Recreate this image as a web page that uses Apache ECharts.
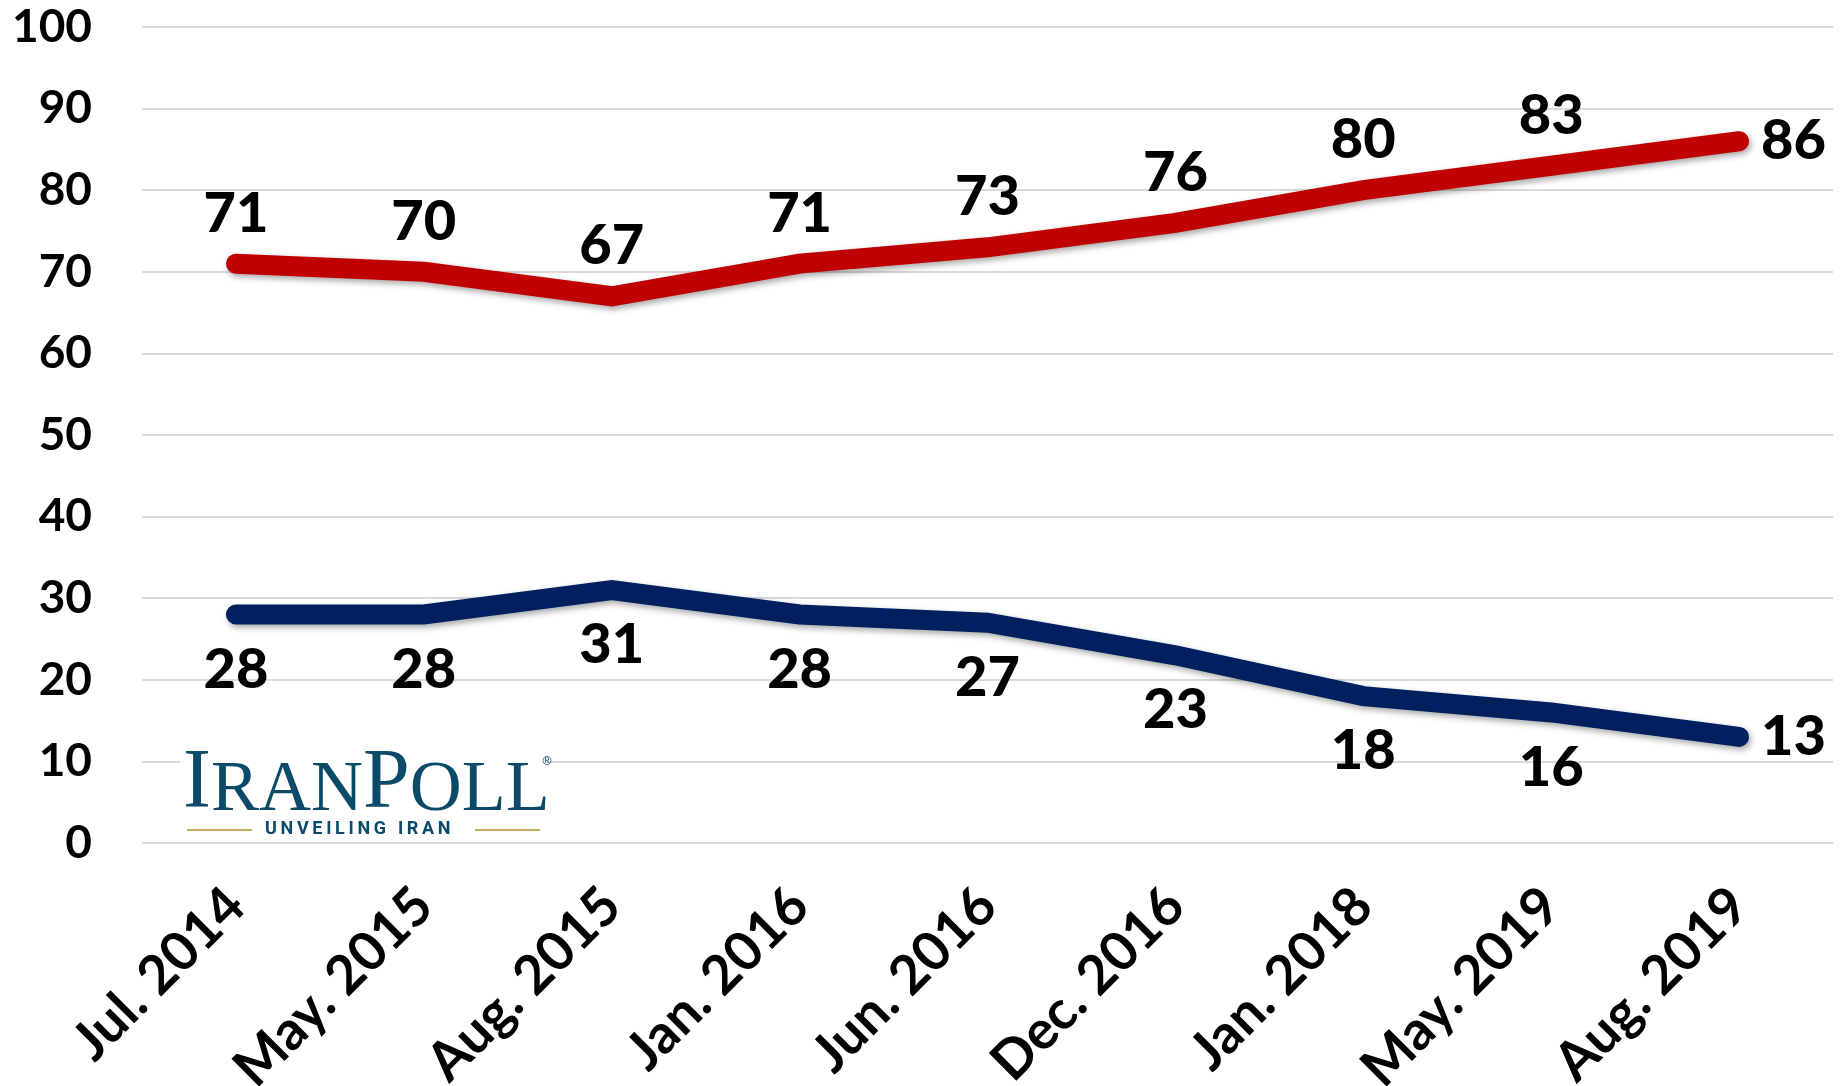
<!DOCTYPE html>
<html>
<head>
    <meta charset="utf-8">
    <title>IranPoll</title>
    <script src="https://cdn.jsdelivr.net/npm/echarts@6/dist/echarts.min.js"></script>
    <style>html, body { margin: 0; padding: 0; background: #fff; }</style>
</head>
<body>
<div id="main" style="width: 1845px;height:1086px;"></div>
<script type="text/javascript">
    var categories = ['Jul. 2014', 'May. 2015', 'Aug. 2015', 'Jan. 2016', 'Jun. 2016',
        'Dec. 2016', 'Jan. 2018', 'May. 2019', 'Aug. 2019'];
    var redValues = [71, 70, 67, 71, 73, 76, 80, 83, 86];
    var blueValues = [28, 28, 31, 28, 27, 23, 18, 16, 13];

    var FONT = 'Lato';
    var LOGO = '#0b4a68';
    var GOLD = '#c9aa5e';

    // last point gets its label on the right
    function withLabels(values) {
        return values.map(function (v, i) {
            if (i === values.length - 1) {
                return {value: v, label: {position: 'right', distance: 22}};
            }
            return v;
        });
    }

    function lineSeries(name, color, values, pos, dist) {
        return {
            name: name,
            type: 'line',
            data: withLabels(values),
            showSymbol: true,
            symbol: 'circle',
            symbolSize: 0,
            lineStyle: {
                color: color,
                width: 20,
                cap: 'round',
                join: 'miter',
                shadowColor: 'rgba(0,0,0,0.35)',
                shadowBlur: 6,
                shadowOffsetX: 2,
                shadowOffsetY: 3
            },
            itemStyle: {color: color},
            label: {
                show: true,
                position: pos,
                distance: dist,
                color: '#000',
                fontFamily: FONT,
                fontWeight: 900,
                fontSize: 56
            },
            silent: true,
            animation: false
        };
    }

    var myChart = echarts.init(document.getElementById('main'));
    var option = {
        animation: false,
        grid: {left: 142, right: 12, top: 27, bottom: 243, outerBoundsMode: 'none', containLabel: false},
        xAxis: {
            type: 'category',
            data: categories,
            boundaryGap: true,
            axisLine: {show: false},
            axisTick: {show: false},
            axisLabel: {
                rotate: 45,
                margin: 54,
                color: '#000',
                fontFamily: FONT,
                fontWeight: 'bold',
                fontSize: 54
            }
        },
        yAxis: {
            type: 'value',
            min: 0,
            max: 100,
            interval: 10,
            axisLine: {show: false},
            axisTick: {show: false},
            splitLine: {lineStyle: {color: '#d9d9d9', width: 2}},
            axisLabel: {
                margin: 50,
                color: '#000',
                fontFamily: FONT,
                fontWeight: 'bold',
                fontSize: 46
            }
        },
        series: [
            lineSeries('Red', '#c00000', redValues, 'top', 22),
            lineSeries('Blue', '#002060', blueValues, 'bottom', 27)
        ],
        graphic: [
            {type: 'rect', left: 180, top: 745, shape: {width: 369, height: 92}, style: {fill: '#fff'}, z: 50},
            {
                type: 'text', left: 183, top: 743, z: 51,
                style: {
                    text: '{a|I}{b|RAN}{a|P}{b|OLL}',
                    rich: {
                        a: {fontFamily: 'Liberation Serif', fontSize: 84, fill: LOGO, verticalAlign: 'bottom', lineHeight: 84},
                        b: {fontFamily: 'Liberation Serif', fontSize: 72, fill: LOGO, verticalAlign: 'bottom', lineHeight: 84}
                    }
                }
            },
            {type: 'text', left: 541, top: 756, z: 51, style: {text: '\u00ae', fontSize: 12, fill: LOGO, fontFamily: 'DejaVu Sans'}},
            {
                type: 'text', left: 265, top: 820, z: 51,
                style: {
                    text: 'U\u2009N\u2009V\u2009E\u2009I\u2009L\u2009I\u2009N\u2009G\u2009 \u2009I\u2009R\u2009A\u2009N',
                    fontFamily: 'Roboto', fontWeight: 'bold', fontSize: 18, fill: LOGO
                }
            },
            {type: 'line', z: 51, shape: {x1: 187, y1: 830, x2: 252, y2: 830}, style: {stroke: GOLD, lineWidth: 2}},
            {type: 'line', z: 51, shape: {x1: 475, y1: 830, x2: 540, y2: 830}, style: {stroke: GOLD, lineWidth: 2}}
        ]
    };
    myChart.setOption(option);
</script>
</body>
</html>
